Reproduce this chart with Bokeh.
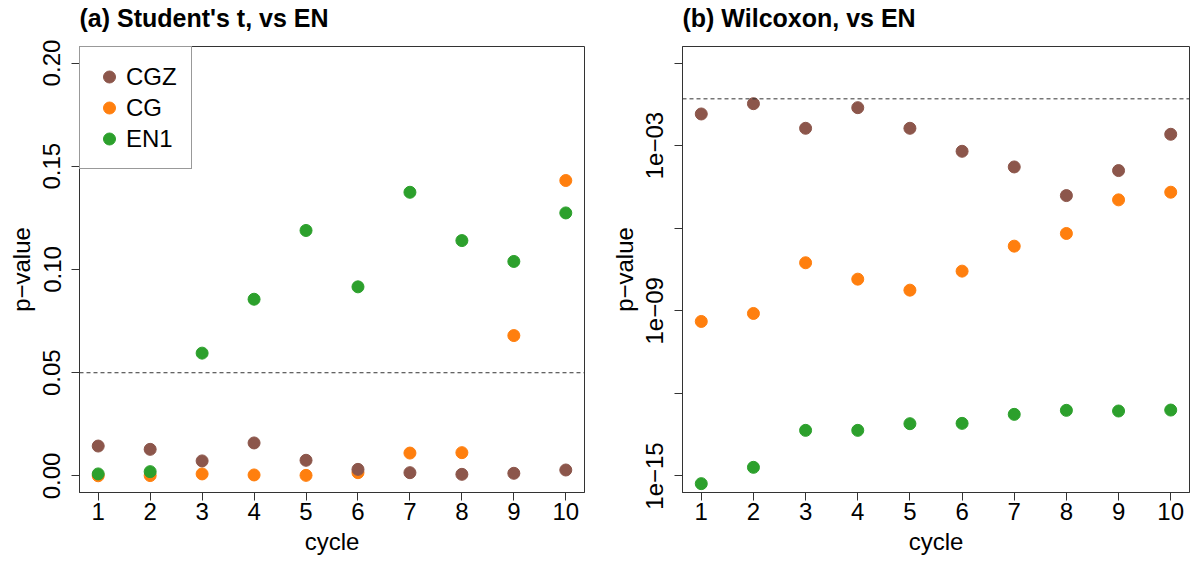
import json
import math
from bokeh.plotting import figure
from bokeh.layouts import row
from bokeh.models import (Range1d, FixedTicker, Span, Legend, LegendItem, Title,
                          CustomJSTickFormatter, PrintfTickFormatter)
from bokeh.embed import file_html
from bokeh.resources import INLINE

# ---------------- data ----------------
cycles = [1, 2, 3, 4, 5, 6, 7, 8, 9, 10]
series_names = ["CGZ", "CG", "EN1"]
series_colors = ["#8c564b", "#ff7f0e", "#2ca02c"]

# (a) Student's t p-values
t_cgz = [0.0145, 0.0129, 0.0073, 0.0160, 0.0076, 0.0032, 0.0016, 0.0008, 0.0013, 0.0029]
t_cg = [0.0001, 0.0002, 0.0010, 0.0005, 0.0003, 0.0016, 0.0111, 0.0113, 0.0680, 0.1431]
t_en1 = [0.0010, 0.0021, 0.0595, 0.0856, 0.1189, 0.0916, 0.1374, 0.1140, 0.1039, 0.1274]

# (b) Wilcoxon p-values
w_cgz = [1.41e-2, 3.34e-2, 4.26e-3, 2.39e-2, 4.26e-3, 6.22e-4, 1.68e-4, 1.53e-5, 1.24e-4, 2.58e-3]
w_cg = [4.10e-10, 8.00e-10, 5.56e-8, 1.41e-8, 5.62e-9, 2.76e-8, 2.23e-7, 6.43e-7, 1.07e-5, 2.03e-5]
w_en1 = [5.27e-16, 2.06e-15, 4.54e-14, 4.54e-14, 7.93e-14, 8.15e-14, 1.73e-13, 2.42e-13, 2.29e-13, 2.48e-13]

threshold = 0.05

t_yticks = [0.0, 0.05, 0.10, 0.15, 0.20]
w_yticks = [1.0, 1e-3, 1e-6, 1e-9, 1e-12, 1e-15]
w_ytick_labels = ["", "1e\u221203", "", "1e\u221209", "", "1e\u221215"]

titles = ["(a) Student's t, vs EN", "(b) Wilcoxon, vs EN"]
x_label = "cycle"
y_label = "p\u2212value"

FONT = "Liberation Sans"
FS = "24px"
LINE = "#333333"


def style(p, title):
    p.xgrid.visible = False
    p.ygrid.visible = False
    p.outline_line_color = LINE
    p.outline_line_width = 1
    p.background_fill_color = "white"
    p.border_fill_color = "white"
    # spacer between frame and title (closest to frame), then the title
    p.add_layout(Title(text=" ", text_font_size="1px", standoff=12), "above")
    p.add_layout(Title(text=title, text_font=FONT, text_font_size="25px",
                       text_font_style="bold", text_color="black",
                       align="left", vertical_align="bottom",
                       standoff=0, offset=0), "above")
    for ax in (p.xaxis[0], p.yaxis[0]):
        ax.axis_line_color = LINE
        ax.major_tick_line_color = LINE
        ax.minor_tick_line_color = None
        ax.major_tick_out = 8
        ax.major_tick_in = 0
        ax.major_label_text_font = FONT
        ax.major_label_text_font_size = FS
        ax.major_label_text_color = "black"
        ax.axis_label_text_font = FONT
        ax.axis_label_text_font_size = FS
        ax.axis_label_text_font_style = "normal"
        ax.axis_label_text_color = "black"
    p.xaxis[0].ticker = FixedTicker(ticks=cycles)
    p.xaxis[0].major_label_standoff = 2
    p.xaxis[0].axis_label_standoff = 5
    p.xaxis[0].axis_label = x_label
    p.yaxis[0].major_label_orientation = "vertical"
    p.yaxis[0].major_label_standoff = 11
    p.yaxis[0].axis_label_standoff = 6
    p.yaxis[0].axis_label = y_label


def add_points(p, ys):
    rs = {}
    order = [1, 0, 2]  # CG drawn first, then CGZ, then EN1
    for i in order:
        rs[i] = p.scatter(cycles, ys[i], size=12, color=series_colors[i],
                          line_color=series_colors[i], marker="circle")
    return [rs[i] for i in range(3)]


common = dict(height=561, width=600, toolbar_location=None, output_backend="svg",
              min_border_top=46, min_border_bottom=69)

# ---- panel (a)
p1 = figure(x_range=Range1d(0.64, 10.36), y_range=Range1d(-0.008, 0.208),
            min_border_left=79, min_border_right=16, **common)
style(p1, titles[0])
p1.yaxis[0].ticker = FixedTicker(ticks=t_yticks)
p1.yaxis[0].formatter = PrintfTickFormatter(format="%.2f")
p1.add_layout(Span(location=threshold, dimension="width", line_dash="4 3",
                   line_color="#333333", line_width=1))
r1 = add_points(p1, [t_cgz, t_cg, t_en1])
legend = Legend(items=[LegendItem(label=series_names[i], renderers=[r1[i]]) for i in range(3)],
                location="top_left", margin=0, padding=14, spacing=0,
                label_height=31, glyph_height=31, glyph_width=30, label_standoff=2,
                label_text_font=FONT, label_text_font_size=FS, label_text_color="black",
                border_line_color=LINE, border_line_width=1,
                background_fill_color="white", background_fill_alpha=1.0)
p1.add_layout(legend)

# ---- panel (b)
p2 = figure(x_range=Range1d(0.64, 10.36),
            y_range=Range1d(10 ** -15.6, 10 ** 0.6), y_axis_type="log",
            min_border_left=82, min_border_right=11, **common)
style(p2, titles[1])
p2.yaxis[0].ticker = FixedTicker(ticks=w_yticks, minor_ticks=[])
label_map = {str(round(math.log10(v))): lab for v, lab in zip(w_yticks, w_ytick_labels)}
p2.yaxis[0].formatter = CustomJSTickFormatter(
    code="const m = %s; const e = String(Math.round(Math.log10(tick))); return (e in m) ? m[e] : '';"
    % json.dumps(label_map))
p2.add_layout(Span(location=threshold, dimension="width", line_dash="4 3",
                   line_color="#333333", line_width=1))
add_points(p2, [w_cgz, w_cg, w_en1])

layout = row(p1, p2)
open("out.html", "w").write(file_html(layout, INLINE))
